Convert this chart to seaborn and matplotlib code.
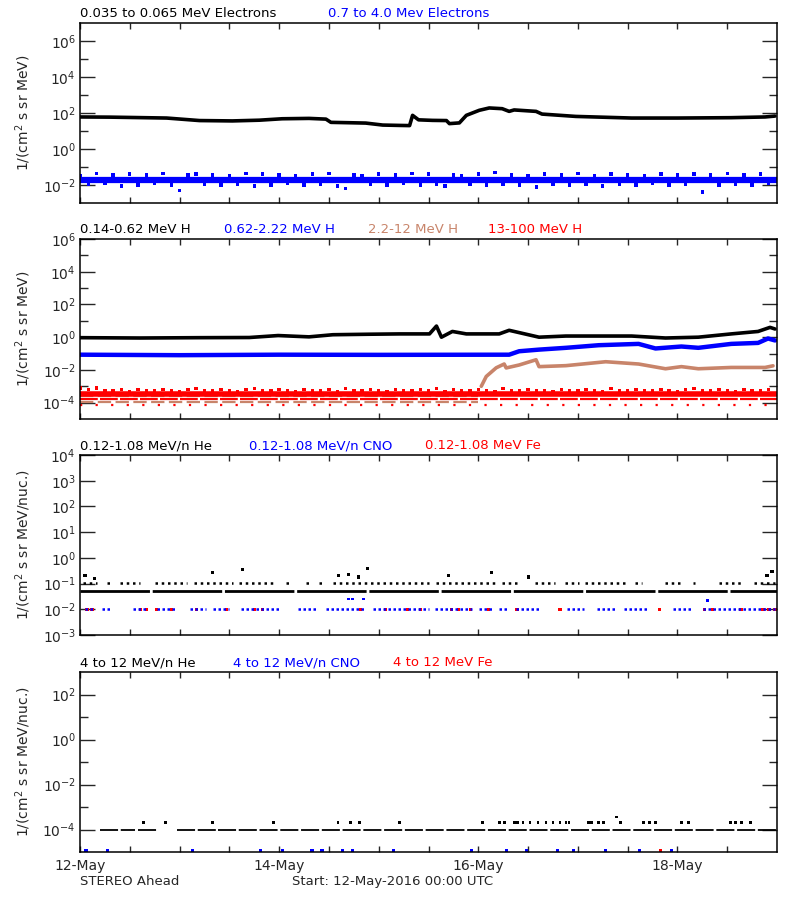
import numpy as np
import pandas as pd
import matplotlib
matplotlib.use("Agg")
import matplotlib.pyplot as plt
import seaborn as sns

sns.set_style("ticks")
plt.rcParams['font.family'] = ['DejaVu Sans']
plt.rcParams['mathtext.default'] = 'regular'
plt.rcParams['font.size'] = 9.5

TAN = "#c8846a"
BLUE = "#0000ff"
RED = "#ff0000"

day_ticks = [0, 2, 4, 6]
day_labels = ["12-May", "14-May", "16-May", "18-May"]
hours_2h = np.arange(0, 168, 2)

# ---- panel 1: electrons (log10 flux)
e_lo_day = [0, 0.3, 0.53, 0.87, 1.2, 1.53, 1.8, 2.03, 2.3, 2.47, 2.52, 2.7, 2.87, 3.04,
            3.21, 3.31, 3.34, 3.4, 3.54, 3.68, 3.71, 3.81, 3.88, 4.01, 4.11, 4.24, 4.31,
            4.36, 4.58, 4.64, 4.98, 5.54, 6.0, 6.54, 6.88, 6.98]
e_lo_log = [1.78, 1.77, 1.75, 1.72, 1.58, 1.56, 1.6, 1.68, 1.7, 1.66, 1.48, 1.46, 1.44, 1.33,
            1.31, 1.3, 1.87, 1.62, 1.59, 1.58, 1.41, 1.45, 1.87, 2.15, 2.28, 2.24, 2.09,
            2.17, 2.09, 1.94, 1.81, 1.72, 1.72, 1.74, 1.78, 1.83]
e_hi_core_log = -1.72
e_hi_log = [-1.5, -1.95, -1.35, -1.9, -1.45, -2.05, -1.4, -2.0, -1.45, -1.9, -1.35, -2.0, -2.3, -1.45,
            -1.4, -1.95, -1.45, -2.0, -1.5, -1.95, -1.35, -2.05, -1.4, -2.0, -1.45, -1.9, -1.5, -2.0,
            -1.4, -1.95, -1.35, -2.05, -2.2, -1.45, -1.5, -1.95, -1.4, -2.0, -1.45, -1.9, -1.35, -2.0,
            -1.4, -1.95, -2.05, -1.45, -1.5, -1.95, -1.4, -2.0, -1.3, -1.95, -1.45, -2.0, -1.5, -2.1,
            -1.4, -1.95, -1.45, -2.0, -1.35, -1.95, -1.5, -2.05, -1.4, -1.95, -1.45, -2.0, -1.5, -1.9,
            -1.4, -2.0, -1.45, -1.95, -1.4, -2.4, -1.45, -2.0, -1.35, -1.95, -1.45, -2.0, -1.4, -1.9]

# ---- panel 2: protons
h1_day = [0, 0.6, 1.2, 1.7, 1.99, 2.3, 2.54, 2.9, 3.21, 3.51, 3.58, 3.63, 3.74, 3.88, 4.21,
          4.31, 4.61, 4.88, 5.54, 5.88, 6.21, 6.54, 6.81, 6.93, 6.98]
h1_log = [-0.03, -0.05, -0.03, -0.02, 0.1, 0.02, 0.15, 0.18, 0.2, 0.2, 0.68, 0.0, 0.35, 0.2,
          0.2, 0.42, 0.0, 0.07, 0.07, -0.05, 0.0, 0.2, 0.35, 0.6, 0.5]
h2_day = [0, 1.0, 2.0, 3.0, 4.31, 4.41, 4.61, 4.88, 5.21, 5.61, 5.78, 6.04, 6.21, 6.54, 6.81,
          6.91, 6.98]
h2_log = [-1.07, -1.1, -1.07, -1.08, -1.07, -0.86, -0.76, -0.65, -0.49, -0.41, -0.69, -0.57,
          -0.65, -0.41, -0.35, -0.08, -0.2]
h3_day = [4.03, 4.08, 4.18, 4.26, 4.28, 4.41, 4.58, 4.61, 4.88, 5.28, 5.61, 5.88, 6.04, 6.21,
          6.54, 6.88, 6.96]
h3_log = [-3.0, -2.4, -1.87, -1.64, -1.88, -1.7, -1.38, -1.8, -1.74, -1.5, -1.64, -1.93, -1.8,
          -1.93, -1.85, -1.85, -1.75]
h4_core_log = -3.48
h4_log = [-3.1, -3.2, -3.1, -3.25, -3.3, -3.2, -3.35, -3.2, -3.3, -3.25, -3.2, -3.3, -3.35, -3.2,
          -3.15, -3.3, -3.25, -3.2, -3.3, -3.35, -3.2, -3.15, -3.3, -3.25, -3.2, -3.3, -3.35, -3.2,
          -3.25, -3.3, -3.2, -3.35, -3.15, -3.3, -3.25, -3.2, -3.3, -3.35, -3.2, -3.3, -3.25, -3.2,
          -3.3, -3.15, -3.35, -3.2, -3.3, -3.25, -3.2, -3.3, -3.35, -3.15, -3.3, -3.25, -3.2, -3.3,
          -3.25, -3.35, -3.2, -3.3, -3.25, -3.2, -3.3, -3.35, -3.15, -3.3, -3.25, -3.2, -3.3, -3.25,
          -3.2, -3.3, -3.35, -3.2, -3.15, -3.3, -3.25, -3.2, -3.3, -3.35, -3.2, -3.3, -3.25, -3.2]
h4_floor_log = -3.75
h3_floor_log = [-3.6, -3.95]
h4_sparse_log = -4.15

# ---- panel 3: 0.12-1.08 MeV/n heavy ions
he_base = 0.05
he_upper = 0.11
he_upper_spans = [[0.03, 0.17], [0.27, 0.30], [0.40, 0.60], [0.75, 1.07], [1.14, 1.54],
                  [1.60, 1.97], [2.07, 2.10], [2.27, 2.30], [2.40, 2.44], [2.54, 3.51],
                  [3.58, 4.17], [4.24, 4.42], [4.57, 4.77], [4.87, 5.01], [5.07, 5.47],
                  [5.57, 5.64], [5.88, 6.05], [6.16, 6.18], [6.42, 6.65], [6.77, 6.98]]
he_high_day = [0.05, 0.15, 1.33, 1.63, 2.6, 2.7, 2.8, 2.89, 3.7, 4.13, 4.5, 6.9, 6.95]
he_high_val = [0.2, 0.16, 0.28, 0.35, 0.2, 0.22, 0.18, 0.4, 0.2, 0.28, 0.18, 0.2, 0.3]
cno_level = 0.01
cno_spans = [[0.05, 0.15], [0.22, 0.30], [0.53, 0.67], [0.77, 0.97], [1.10, 1.27],
             [1.34, 1.50], [1.62, 2.00], [2.19, 2.37], [2.47, 2.87], [2.94, 3.51],
             [3.57, 3.94], [4.01, 4.14], [4.21, 4.31], [4.38, 4.63], [4.89, 5.06],
             [5.19, 5.38], [5.46, 5.71], [5.96, 6.15], [6.26, 6.98]]
cno_high_day = [2.7, 2.74, 2.85, 6.3]
cno_high_val = [0.025, 0.025, 0.025, 0.022]
fe_day = [0.07, 0.12, 0.61, 0.67, 0.77, 0.92, 1.17, 1.47, 1.75, 1.83, 2.82, 3.07, 3.29, 3.42,
          3.73, 3.80, 3.92, 4.10, 4.39, 4.82, 5.82, 6.27, 6.35, 6.64, 6.86, 6.92, 6.98]

# ---- panel 4: 4-12 MeV/n heavy ions
he4_base = 1e-4
he4_spans = [[0.2, 0.55], [0.58, 0.77], [0.97, 1.37], [1.39, 7.0]]
he4_up_day = [0.64, 0.86, 1.33, 1.94, 2.59, 2.72, 2.81, 3.21, 4.04, 4.21, 4.26, 4.36, 4.39,
              4.45, 4.52, 4.6, 4.68, 4.75, 4.82, 4.88, 4.91, 5.11, 5.14, 5.21, 5.26, 5.43,
              5.66, 5.72, 5.78, 6.04, 6.11, 6.53, 6.58, 6.64, 6.73]
he4_up_val = 2e-4
he4_peak_day = [5.39]
he4_peak_val = [3.6e-4]
cno4_day = [0.06, 0.28, 1.13, 1.81, 2.03, 2.33, 2.43, 2.64, 2.74, 3.15, 3.93, 4.28, 4.48, 4.80,
            4.96, 5.28, 5.62, 5.94]
cno4_val = 1.2e-5
fe4_day = [5.83]

fig = plt.figure(figsize=(8, 9), dpi=100)
left, width, height = 80 / 800, 697 / 800, 180 / 900
tops = [23, 239, 455, 672]
axes = [fig.add_axes([left, 1 - (t + 180) / 900, width, height]) for t in tops]


def style_axis(ax, ylim, major, minor, ylabel):
    ax.set_yscale("log")
    ax.set_xlim(0, 7)
    ax.set_ylim(*ylim)
    ax.set_yticks(major)
    ax.set_yticklabels([f"$10^{{{int(round(np.log10(v)))}}}$" for v in major])
    ax.set_yticks(minor, minor=True)
    ax.set_yticklabels([], minor=True)
    ax.set_xticks(day_ticks)
    ax.set_xticks([0.5, 1, 1.5, 2.5, 3, 3.5, 4.5, 5, 5.5, 6.5], minor=True)
    ax.tick_params(axis="y", which="major", direction="in", length=11, width=1,
                   left=True, right=True, labelsize=10, pad=3)
    ax.tick_params(axis="y", which="minor", direction="in", length=5.5, width=1,
                   left=True, right=True)
    ax.tick_params(axis="x", which="both", direction="in", length=4, width=1,
                   top=True, bottom=True, labelsize=10)
    ax.set_xticklabels([])
    for s in ax.spines.values():
        s.set_linewidth(1.1)
        s.set_color("black")
    ax.set_ylabel(ylabel, fontsize=10, labelpad=4)
    ax.set_xlabel("")


def titles(ax, pieces):
    for xpix, txt, col in pieces:
        ax.text((xpix - 80) / 697, 1.015, txt, color=col, transform=ax.transAxes,
                ha="left", va="bottom", fontsize=9.5)


def hspans(ax, spans, level, color, style, lw):
    for a, b in spans:
        ax.hlines(level, a, b, colors=color, linestyles=style, linewidth=lw)


def dots(ax, x, y, color, size=5):
    sns.scatterplot(x=x, y=y, ax=ax, color=color, marker="s", s=size, edgecolor="none",
                    linewidth=0)


# panel 1
ax = axes[0]
df_lo = pd.DataFrame({"day": e_lo_day, "flux": 10 ** np.array(e_lo_log)})
df_hi = pd.DataFrame({"day": hours_2h / 24, "flux": 10 ** np.array(e_hi_log)})
ax.axhline(10 ** e_hi_core_log, color=BLUE, linewidth=4.5)
dots(ax, df_hi["day"], df_hi["flux"], BLUE, 6)
sns.lineplot(data=df_lo, x="day", y="flux", ax=ax, color="black", linewidth=2.6)
style_axis(ax, (1e-3, 1e7), [1e-2, 1, 1e2, 1e4, 1e6], [1e-1, 1e1, 1e3, 1e5],
           "1/(cm$^2$ s sr MeV)")
titles(ax, [(80, "0.035 to 0.065 MeV Electrons", "black"),
            (328, "0.7 to 4.0 Mev Electrons", BLUE)])

# panel 2
ax = axes[1]
df4 = pd.DataFrame({"day": hours_2h / 24, "flux": 10 ** np.array(h4_log)})
ax.hlines([10 ** v for v in h3_floor_log], 0, 4.0, colors=TAN, linestyles=(0, (6, 2)),
          linewidth=1.6)
ax.hlines(10 ** h4_floor_log, 0, 7, colors=RED, linestyles=(0, (8, 1)), linewidth=1.6)
ax.hlines(10 ** h4_sparse_log, 0, 7, colors=RED, linestyles=(0, (1, 6)), linewidth=1.6)
ax.axhline(10 ** h4_core_log, color=RED, linewidth=4)
dots(ax, df4["day"], df4["flux"], RED, 6)
sns.lineplot(x=h3_day, y=10 ** np.array(h3_log), ax=ax, color=TAN, linewidth=2.6)
sns.lineplot(x=h2_day, y=10 ** np.array(h2_log), ax=ax, color=BLUE, linewidth=3.2)
sns.lineplot(x=h1_day, y=10 ** np.array(h1_log), ax=ax, color="black", linewidth=2.6)
style_axis(ax, (1e-5, 1e6), [1e-4, 1e-2, 1, 1e2, 1e4, 1e6], [1e-3, 1e-1, 1e1, 1e3, 1e5],
           "1/(cm$^2$ s sr MeV)")
titles(ax, [(80, "0.14-0.62 MeV H", "black"), (224, "0.62-2.22 MeV H", BLUE),
            (368, "2.2-12 MeV H", TAN), (488, "13-100 MeV H", RED)])

# panel 3
ax = axes[2]
ax.hlines(he_base, 0, 7, colors="black", linestyles=(0, (25, 1)), linewidth=2)
hspans(ax, he_upper_spans, he_upper, "black", (0, (1, 1.5)), 1.8)
hspans(ax, cno_spans, cno_level, BLUE, (0, (1, 1)), 1.8)
dots(ax, he_high_day, he_high_val, "black", 5)
dots(ax, cno_high_day, cno_high_val, BLUE, 4)
dots(ax, fe_day, [cno_level] * len(fe_day), RED, 6)
style_axis(ax, (1e-3, 1e4), [1e-3, 1e-2, 1e-1, 1, 1e1, 1e2, 1e3, 1e4], [],
           "1/(cm$^2$ s sr MeV/nuc.)")
titles(ax, [(80, "0.12-1.08 MeV/n He", "black"), (249, "0.12-1.08 MeV/n CNO", BLUE),
            (425, "0.12-1.08 MeV Fe", RED)])

# panel 4
ax = axes[3]
hspans(ax, he4_spans, he4_base, "black", (0, (10, 1.5)), 1.3)
dots(ax, he4_up_day, [he4_up_val] * len(he4_up_day), "black", 4)
dots(ax, he4_peak_day, he4_peak_val, "black", 4)
dots(ax, cno4_day, [cno4_val] * len(cno4_day), BLUE, 5)
dots(ax, fe4_day, [cno4_val] * len(fe4_day), RED, 5)
style_axis(ax, (1e-5, 1e3), [1e-4, 1e-2, 1, 1e2], [1e-3, 1e-1, 1e1],
           "1/(cm$^2$ s sr MeV/nuc.)")
ax.set_xticklabels(day_labels)
ax.tick_params(axis="x", pad=5)
titles(ax, [(80, "4 to 12 MeV/n He", "black"), (233, "4 to 12 MeV/n CNO", BLUE),
            (393, "4 to 12 MeV Fe", RED)])

for a in axes:
    a.yaxis.set_label_coords(-0.068, 0.5)

fig.text(80 / 800, 1 - 888 / 900, "STEREO Ahead", fontsize=9.5, ha="left", va="bottom")
fig.text(292 / 800, 1 - 888 / 900, "Start: 12-May-2016 00:00 UTC", fontsize=9.5,
         ha="left", va="bottom")

fig.savefig("out.png", dpi=100)
